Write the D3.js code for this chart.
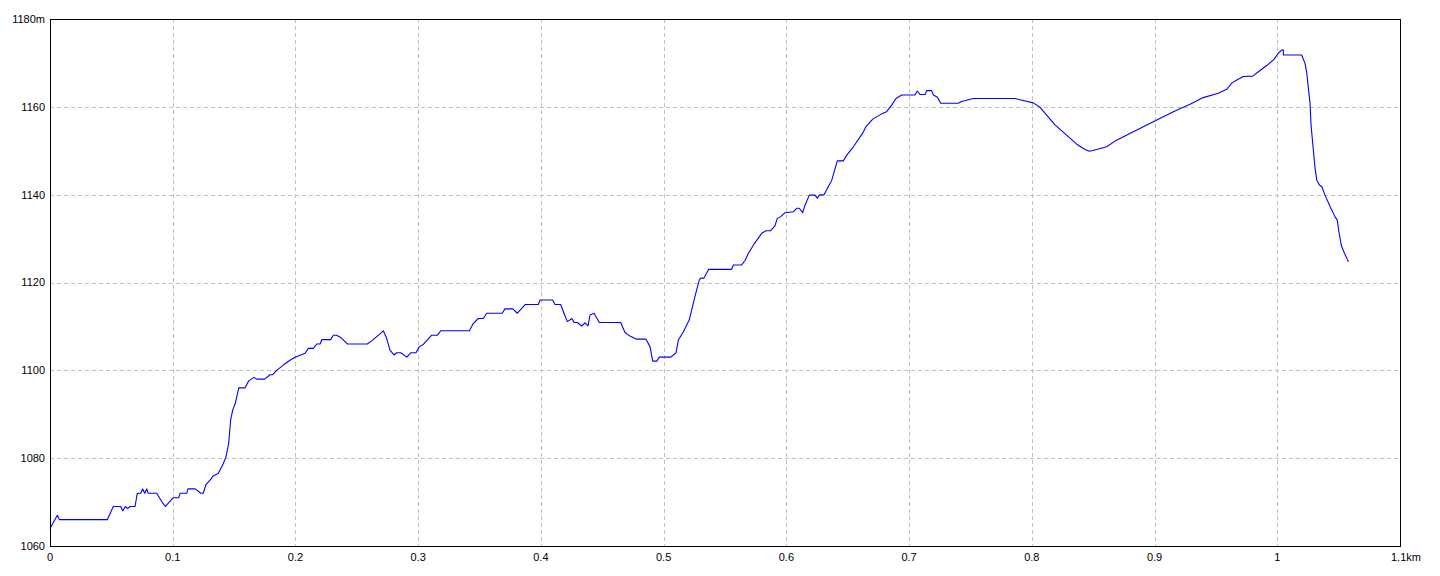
<!DOCTYPE html>
<html>
<head>
<meta charset="utf-8">
<script src="https://cdn.jsdelivr.net/npm/d3@7"></script>
<style>
html,body{margin:0;padding:0;background:#fff;}
svg{display:block;}
text{font-family:"Liberation Sans",Arial,sans-serif;font-size:11px;fill:#000;}
</style>
</head>
<body>
<svg id="chart" width="1440" height="576"></svg>
<script>
// distance (km)
const distKm = [0.0000,0.0060,0.0076,0.0467,0.0516,0.0576,0.0592,0.0614,0.0633,0.0652,0.0693,0.0711,0.0739,0.0755,0.0772,0.0788,0.0801,0.0869,0.0913,0.0940,0.1005,0.1049,0.1059,0.1114,0.1124,0.1184,0.1228,0.1249,0.1271,0.1304,0.1331,0.1371,0.1412,0.1434,0.1456,0.1472,0.1489,0.1510,0.1538,0.1589,0.1619,0.1662,0.1684,0.1749,0.1793,0.1815,0.1847,0.1901,0.1961,0.1996,0.2078,0.2105,0.2146,0.2173,0.2200,0.2216,0.2287,0.2309,0.2336,0.2369,0.2422,0.2585,0.2621,0.2667,0.2716,0.2743,0.2770,0.2803,0.2825,0.2858,0.2907,0.2939,0.2982,0.3009,0.3042,0.3110,0.3156,0.3184,0.3417,0.3450,0.3490,0.3531,0.3558,0.3685,0.3707,0.3771,0.3808,0.3873,0.3979,0.3993,0.4096,0.4115,0.4161,0.4188,0.4215,0.4253,0.4270,0.4297,0.4332,0.4359,0.4384,0.4400,0.4433,0.4476,0.4650,0.4685,0.4726,0.4780,0.4856,0.4889,0.4911,0.4944,0.4965,0.5058,0.5101,0.5120,0.5161,0.5209,0.5242,0.5269,0.5291,0.5302,0.5329,0.5367,0.5554,0.5568,0.5636,0.5663,0.5690,0.5731,0.5799,0.5834,0.5872,0.5907,0.5926,0.5954,0.5989,0.6057,0.6084,0.6105,0.6133,0.6152,0.6187,0.6233,0.6252,0.6269,0.6307,0.6329,0.6370,0.6415,0.6464,0.6492,0.6546,0.6622,0.6649,0.6704,0.6777,0.6817,0.6858,0.6893,0.6940,0.7048,0.7067,0.7089,0.7130,0.7143,0.7184,0.7198,0.7231,0.7258,0.7401,0.7428,0.7523,0.7863,0.7904,0.8012,0.8067,0.8189,0.8297,0.8366,0.8433,0.8469,0.8529,0.8610,0.8678,0.8827,0.8990,0.9153,0.9289,0.9397,0.9519,0.9588,0.9629,0.9670,0.9723,0.9800,0.9846,0.9914,0.9973,1.0008,1.0036,1.0049,1.0050,1.0199,1.0226,1.0241,1.0255,1.0267,1.0275,1.0289,1.0300,1.0308,1.0322,1.0343,1.0363,1.0389,1.0430,1.0470,1.0489,1.0500,1.0523,1.0544,1.0580];
// elevation (m)
const elevM = [1064.0,1067.0,1066.0,1066.0,1069.0,1069.0,1068.0,1069.0,1068.5,1069.0,1069.0,1072.0,1072.0,1073.0,1072.0,1073.0,1072.0,1072.0,1070.0,1069.0,1071.0,1071.0,1072.0,1072.0,1073.0,1073.0,1072.0,1072.0,1074.0,1075.0,1076.0,1076.5,1078.8,1080.3,1083.4,1088.7,1091.0,1092.5,1096.0,1096.0,1097.6,1098.4,1098.0,1098.0,1099.0,1099.0,1100.0,1101.2,1102.4,1103.0,1103.9,1105.0,1105.0,1106.0,1106.0,1107.0,1107.0,1108.0,1108.0,1107.5,1106.0,1106.0,1106.7,1107.8,1109.0,1107.3,1104.6,1103.5,1104.0,1104.0,1103.0,1104.0,1104.0,1105.4,1105.9,1108.0,1108.0,1109.0,1109.0,1110.7,1111.8,1111.8,1113.0,1113.0,1114.0,1114.0,1113.0,1115.0,1115.0,1116.0,1116.0,1115.0,1115.0,1113.0,1111.1,1111.8,1110.9,1110.9,1110.1,1110.8,1110.1,1112.6,1113.0,1110.9,1110.9,1108.6,1107.8,1107.1,1107.1,1105.4,1102.1,1102.1,1103.0,1103.0,1104.0,1106.9,1108.8,1111.5,1115.3,1118.3,1120.6,1121.0,1121.0,1123.0,1123.0,1124.0,1124.0,1125.0,1126.6,1128.5,1131.2,1131.8,1131.8,1132.9,1134.6,1135.0,1135.9,1136.1,1136.9,1136.9,1135.9,1137.6,1139.9,1139.9,1139.2,1139.9,1140.0,1141.2,1143.3,1147.7,1147.7,1149.0,1150.9,1154.0,1155.5,1157.2,1158.4,1158.9,1160.4,1161.9,1162.7,1162.7,1163.6,1162.8,1162.8,1163.7,1163.7,1162.7,1162.2,1160.8,1160.8,1161.2,1161.9,1161.9,1161.6,1160.9,1159.9,1155.9,1153.2,1151.5,1150.3,1149.9,1150.3,1150.9,1152.2,1154.3,1156.6,1158.9,1160.6,1162.1,1163.1,1164.0,1165.4,1166.1,1166.9,1167.0,1168.0,1169.4,1170.8,1172.2,1172.9,1173.0,1171.8,1171.8,1169.9,1167.6,1163.8,1160.8,1155.9,1151.7,1148.3,1146.0,1143.3,1142.2,1141.8,1139.9,1137.3,1135.0,1134.2,1131.9,1128.3,1126.9,1124.7];

const xTicks = [0,0.1,0.2,0.3,0.4,0.5,0.6,0.7,0.8,0.9,1,1.1];
const xTickLabels = ["0","0.1","0.2","0.3","0.4","0.5","0.6","0.7","0.8","0.9","1","1.1km"];
const yTicks = [1060,1080,1100,1120,1140,1160,1180];
const yTickLabels = ["1060","1080","1100","1120","1140","1160","1180m"];

const svg = d3.select("#chart");
const L = 50, R = 1400, T = 19, B = 546;
const x = d3.scaleLinear().domain([0, 1.1]).range([L, R]);
const y = d3.scaleLinear().domain([1060, 1180]).range([B, T]);

const grid = svg.append("g");
// vertical grid
grid.selectAll("line.v").data(xTicks.slice(1, -1)).enter().append("line")
  .attr("x1", d => Math.round(x(d)) + 0.5).attr("x2", d => Math.round(x(d)) + 0.5)
  .attr("y1", T).attr("y2", B)
  .attr("stroke", "#c0c0c0").attr("stroke-width", 1).attr("stroke-dasharray", "4,3");
// horizontal grid
grid.selectAll("line.h").data(yTicks.slice(1, -1)).enter().append("line")
  .attr("y1", d => Math.round(y(d)) + 0.5).attr("y2", d => Math.round(y(d)) + 0.5)
  .attr("x1", L).attr("x2", R)
  .attr("stroke", "#c0c0c0").attr("stroke-width", 1).attr("stroke-dasharray", "4,3");

// line
const line = d3.line().x((d, i) => x(distKm[i])).y((d, i) => y(elevM[i]));
svg.append("path").datum(elevM)
  .attr("d", line)
  .attr("fill", "none").attr("stroke", "#0000ff").attr("stroke-width", 1.1)
  .attr("stroke-linejoin", "round");

// frame
svg.append("rect").attr("x", L + 0.5).attr("y", T + 0.5)
  .attr("width", R - L).attr("height", B - T)
  .attr("fill", "none").attr("stroke", "#000").attr("stroke-width", 1);

// axes labels
svg.append("g").selectAll("text").data(yTicks).enter().append("text")
  .attr("x", 45).attr("y", d => y(d)).attr("dy", "0.35em")
  .attr("text-anchor", "end")
  .text((d, i) => yTickLabels[i]);

svg.append("g").selectAll("text").data(xTicks).enter().append("text")
  .attr("x", (d, i) => i === xTicks.length - 1 ? x(d) - 9 : x(d))
  .attr("y", 561)
  .attr("text-anchor", (d, i) => i === xTicks.length - 1 ? "start" : "middle")
  .text((d, i) => xTickLabels[i]);
</script>
</body>
</html>
